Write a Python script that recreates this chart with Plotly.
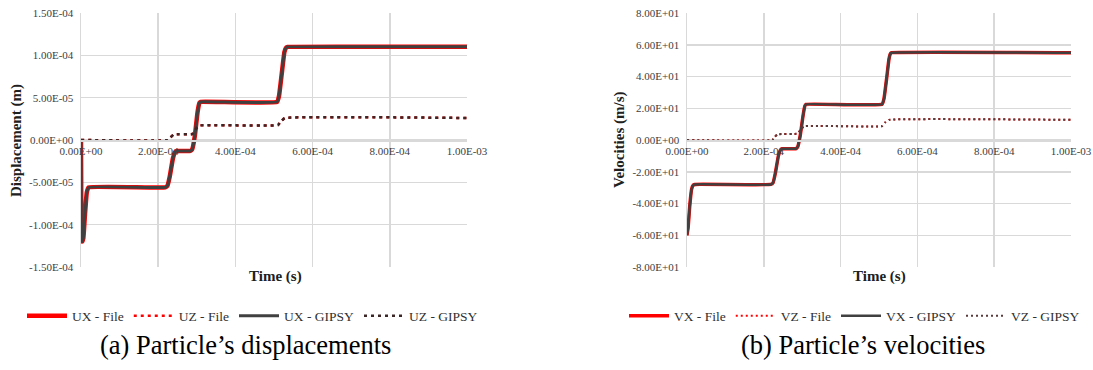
import plotly.graph_objects as go

# ---------------- data ----------------
# Displacements (m)
t_ux = [0, 1e-6, 3e-6, 6e-6, 1.0e-5, 1.5e-5, 2.0e-5, 2.18e-4, 2.24e-4, 2.30e-4, 2.38e-4, 2.44e-4, 2.48e-4,
        2.83e-4, 2.88e-4, 2.95e-4, 3.02e-4, 3.07e-4, 3.10e-4, 5.08e-4, 5.13e-4, 5.20e-4, 5.27e-4, 5.32e-4, 5.35e-4, 1.0e-3]
ux_gipsy = [0, -1.10e-4, -1.20e-4, -1.16e-4, -9.0e-5, -6.2e-5, -5.6e-5, -5.6e-5, -5.4e-5, -4.3e-5, -2.2e-5, -1.4e-5, -1.3e-5,
            -1.3e-5, -1.1e-5, 0.5e-5, 3.3e-5, 4.4e-5, 4.5e-5, 4.5e-5, 5.2e-5, 7.8e-5, 1.04e-4, 1.095e-4, 1.10e-4, 1.10e-4]
ux_file = ux_gipsy

t_uz = [0, 2.25e-4, 2.32e-4, 2.40e-4, 2.88e-4, 2.96e-4, 3.05e-4, 5.10e-4, 5.18e-4, 5.28e-4, 1.0e-3]
uz_gipsy = [0, 0, 3e-6, 6.5e-6, 7e-6, 1.2e-5, 1.7e-5, 1.75e-5, 2.2e-5, 2.6e-5, 2.6e-5]
uz_file = uz_gipsy

# Velocities (m/s)
t_vx = [0, 3e-6, 7e-6, 1.2e-5, 1.6e-5, 2.0e-5, 2.18e-4, 2.24e-4, 2.30e-4, 2.38e-4, 2.44e-4, 2.48e-4,
        2.83e-4, 2.88e-4, 2.95e-4, 3.02e-4, 3.07e-4, 3.10e-4, 5.08e-4, 5.13e-4, 5.20e-4, 5.26e-4, 5.30e-4, 5.33e-4, 1.0e-3]
vx_gipsy = [-60, -55, -42, -31, -28.5, -28, -28, -27, -21, -10, -6, -5.5,
            -5.5, -4.5, 3, 15, 21.5, 22.5, 22.5, 26, 39, 51, 54.5, 55, 55]
vx_file = vx_gipsy

t_vz = [0, 2.22e-4, 2.28e-4, 2.36e-4, 2.88e-4, 2.96e-4, 3.05e-4, 5.08e-4, 5.16e-4, 5.26e-4, 1.0e-3]
vz_gipsy = [0, 0, 1.8, 3.6, 4.0, 6.5, 8.7, 8.7, 11.0, 12.7, 12.7]
vz_file = vz_gipsy

x_ticks = [0, 2e-4, 4e-4, 6e-4, 8e-4, 1e-3]
x_tick_text = ["0.00E+00", "2.00E-04", "4.00E-04", "6.00E-04", "8.00E-04", "1.00E-03"]
disp_ticks = [-1.5e-4, -1.0e-4, -5e-5, 0, 5e-5, 1.0e-4, 1.5e-4]
disp_tick_text = ["-1.50E-04", "-1.00E-04", "-5.00E-05", "0.00E+00", "5.00E-05", "1.00E-04", "1.50E-04"]
vel_ticks = [-80, -60, -40, -20, 0, 20, 40, 60, 80]
vel_tick_text = ["-8.00E+01", "-6.00E+01", "-4.00E+01", "-2.00E+01", "0.00E+00",
                 "2.00E+01", "4.00E+01", "6.00E+01", "8.00E+01"]

# ---------------- figure ----------------
W, H = 1093, 370
FONT = "Liberation Serif, Times New Roman, Times, serif"
RED = "#FF0000"
GREY = "#404040"
DOTC = "#3C2626"
GRID = "#D9D9D9"

fig = go.Figure()

def add(x, y, name, color, width, dash, xa, ya, legend):
    fig.add_trace(go.Scatter(x=x, y=y, mode="lines", name=name, xaxis=xa, yaxis=ya, legend=legend,
                             line=dict(color=color, width=width, dash=dash, shape="spline", smoothing=0.3)))

add(t_ux, ux_file, "UX - File", RED, 4.5, "solid", "x", "y", "legend")
add(t_uz, uz_file, "UZ - File", RED, 2.5, "3px,4px", "x", "y", "legend")
add(t_ux, ux_gipsy, "UX - GIPSY", GREY, 3, "solid", "x", "y", "legend")
add(t_uz, uz_gipsy, "UZ - GIPSY", DOTC, 2.5, "3px,4px", "x", "y", "legend")

add(t_vx, vx_file, "VX - File", RED, 3.5, "solid", "x2", "y2", "legend2")
add(t_vz, vz_file, "VZ - File", RED, 2, "2px,3px", "x2", "y2", "legend2")
add(t_vx, vx_gipsy, "VX - GIPSY", GREY, 2.5, "solid", "x2", "y2", "legend2")
add(t_vz, vz_gipsy, "VZ - GIPSY", "#5A3A3A", 2, "2px,3px", "x2", "y2", "legend2")

ydom = [1 - 267 / H, 1 - 13 / H]
tickfont = dict(family=FONT, size=11, color="#404040")

def xaxis(dom):
    return dict(domain=dom, range=[0, 1e-3], tickvals=x_ticks, ticktext=x_tick_text, tickfont=tickfont,
                showgrid=True, gridcolor=GRID, gridwidth=1.5, zeroline=False, showline=True,
                linecolor=GRID, linewidth=1.5, anchor="free", position=ydom[0] + (ydom[1] - ydom[0]) / 2,
                ticks="", automargin=False, fixedrange=True)

def yaxis(rng, vals, txt, anchor):
    return dict(domain=ydom, range=rng, tickvals=vals, ticktext=txt, tickfont=tickfont, anchor=anchor,
                showgrid=True, gridcolor=GRID, gridwidth=1.5, zeroline=False, showline=True,
                linecolor=GRID, linewidth=1.5, ticks="", ticklabelstandoff=4, automargin=False,
                fixedrange=True)

fig.update_layout(
    width=W, height=H, margin=dict(l=0, r=0, t=0, b=0, pad=0, autoexpand=False),
    paper_bgcolor="white", plot_bgcolor="white",
    xaxis=xaxis([81 / W, 467 / W]),
    yaxis=yaxis([-1.5e-4, 1.5e-4], disp_ticks, disp_tick_text, "x"),
    xaxis2=xaxis([687 / W, 1071 / W]),
    yaxis2=yaxis([-80, 80], vel_ticks, vel_tick_text, "x2"),
    legend=dict(orientation="h", x=22 / W, y=1 - 316 / H, xanchor="left", yanchor="middle",
                font=dict(family=FONT, size=13.5, color="#303030"), bgcolor="rgba(0,0,0,0)",
                itemwidth=40),
    legend2=dict(orientation="h", x=624 / W, y=1 - 316 / H, xanchor="left", yanchor="middle",
                 font=dict(family=FONT, size=13.5, color="#303030"), bgcolor="rgba(0,0,0,0)",
                 itemwidth=40),
    showlegend=True,
)

ann = []
def text(x, y, s, size, bold=False, angle=0, color="#202020"):
    ann.append(dict(x=x / W, y=1 - y / H, xref="paper", yref="paper", text=("<b>%s</b>" % s) if bold else s,
                    showarrow=False, textangle=angle, xanchor="center", yanchor="middle",
                    font=dict(family=FONT, size=size, color=color)))

text(16, 141, "Displacement (m)", 15, bold=True, angle=-90)
text(619, 140, "Velocities (m/s)", 15, bold=True, angle=-90)
text(275, 276, "Time (s)", 15, bold=True)
text(880, 276, "Time (s)", 15, bold=True)
text(245, 345, "(a) Particle’s displacements", 26.5, color="#000000")
text(863, 345, "(b) Particle’s velocities", 26.5, color="#000000")
fig.update_layout(annotations=ann)

fig.write_html("out.html", config={"displayModeBar": False, "staticPlot": True},
               post_script="document.body.style.margin='0px';document.body.style.overflow='hidden';")
